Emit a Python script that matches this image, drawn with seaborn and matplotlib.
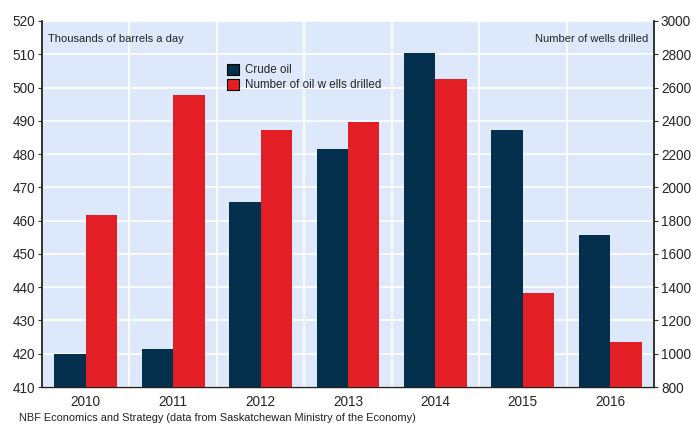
import matplotlib
matplotlib.use("Agg")
import matplotlib.pyplot as plt
import seaborn as sns
import pandas as pd
from matplotlib.patches import Patch

years = ["2010", "2011", "2012", "2013", "2014", "2015", "2016"]
crude_oil = [419.9, 421.3, 465.5, 481.5, 510.3, 487.2, 455.6]
wells_drilled = [1832, 2555, 2344, 2392, 2651, 1363, 1069]
series_names = ["Crude oil", "Number of oil w ells drilled"]

left_ticks = list(range(410, 521, 10))
right_ticks = list(range(800, 3001, 200))

NAVY = "#04304d"
RED = "#e31e25"
BG = "#dde9fb"

sns.set_style("white")
plt.rcParams["font.family"] = ["Liberation Sans", "DejaVu Sans"]

df = pd.DataFrame({
    "year": years * 2,
    "series": [series_names[0]] * len(years) + [series_names[1]] * len(years),
    "value": crude_oil + wells_drilled,
})

fig = plt.figure(figsize=(6.91, 4.25), dpi=100)
ax = fig.add_axes([0.0608, 0.0894, 0.8857, 0.8612])
ax.set_facecolor(BG)
ax2 = ax.twinx()

palette = {series_names[0]: NAVY, series_names[1]: RED}

sns.barplot(data=df[df.series == series_names[0]], x="year", y="value",
            hue="series", hue_order=series_names, order=years, palette=palette,
            width=0.72, gap=0, dodge=True, saturation=1, legend=False,
            ax=ax, errorbar=None, linewidth=0)
sns.barplot(data=df[df.series == series_names[1]], x="year", y="value",
            hue="series", hue_order=series_names, order=years, palette=palette,
            width=0.72, gap=0, dodge=True, saturation=1, legend=False,
            ax=ax2, errorbar=None, linewidth=0)

ax.set_ylim(410, 520)
ax2.set_ylim(800, 3000)
ax.set_xlim(-0.5, len(years) - 0.5)
ax.set_yticks(left_ticks)
ax2.set_yticks(right_ticks)

# category boundaries carry the tick marks and vertical grid
bounds = [i - 0.5 for i in range(len(years) + 1)]
ax.set_xticks(range(len(years)))
ax.set_xticklabels(years)
ax.set_xticks(bounds, minor=True)
ax.tick_params(axis="x", which="major", length=0, pad=6, labelsize=9.8)
ax.tick_params(axis="x", which="minor", length=4, width=0.8, color="#333333", direction="out")
ax.tick_params(axis="y", length=3, width=0.8, pad=2, labelsize=9.8, color="#333333", direction="out")
ax2.tick_params(axis="y", length=3, width=0.8, pad=2, labelsize=9.8, color="#333333", direction="out")

ax.set_axisbelow(True)
ax.grid(False)
ax.yaxis.grid(True, color="white", linewidth=1.2)
ax.xaxis.grid(True, which="minor", color="white", linewidth=1.2)
ax2.grid(False)

ax.set_xlabel("")
ax.set_ylabel("")
ax2.set_ylabel("")

for a in (ax, ax2):
    a.spines["top"].set_visible(False)
ax.spines["right"].set_visible(False)
ax.spines["left"].set_color("#222222")
ax.spines["left"].set_linewidth(1.3)
ax.spines["bottom"].set_color("#222222")
ax.spines["bottom"].set_linewidth(1.0)
ax2.spines["left"].set_visible(False)
ax2.spines["bottom"].set_visible(False)
ax2.spines["right"].set_color("#222222")
ax2.spines["right"].set_linewidth(1.3)

ax.text(0.009, 0.965, "Thousands of barrels a day", transform=ax.transAxes,
        ha="left", va="top", fontsize=8, color="#222222")
ax2.text(0.99, 0.965, "Number of wells drilled", transform=ax.transAxes,
         ha="right", va="top", fontsize=8, color="#222222")

handles = [Patch(facecolor=NAVY, edgecolor="black", linewidth=0.8, label=series_names[0]),
           Patch(facecolor=RED, edgecolor="black", linewidth=0.8, label=series_names[1])]
ax2.legend(handles=handles, loc="upper left", bbox_to_anchor=(0.295, 0.895),
           frameon=False, fontsize=8.4, handlelength=1.05, handleheight=1.05,
           handletextpad=0.5, labelspacing=0.2, borderaxespad=0)

fig.text(0.028, 0.004, "NBF Economics and Strategy (data from Saskatchewan Ministry of the Economy)",
         ha="left", va="bottom", fontsize=7.9, color="#222222")

fig.savefig("out.png", dpi=100)
